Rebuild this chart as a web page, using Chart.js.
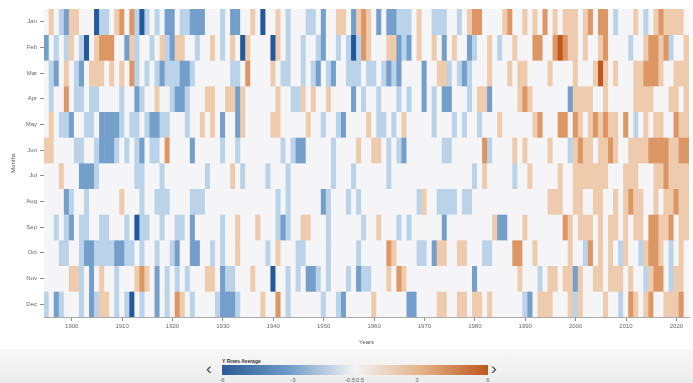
<!DOCTYPE html>
<html>
<head>
<meta charset="utf-8">
<script src="https://cdn.jsdelivr.net/npm/chart.js@4.4.0/dist/chart.umd.min.js"></script>
<style>
  body { margin: 0; background: #fff; font-family: "Liberation Sans", Arial, sans-serif; }
  #wrap { position: relative; width: 693px; height: 349px; }
  #foot { position: relative; width: 693px; height: 34px; background: linear-gradient(#f8f8f8, #ececec); overflow: hidden; }
  #foot .ttl { position: absolute; left: 222px; top: 9px; font-size: 5px; font-weight: bold; color: #333; }
  #foot .bar { position: absolute; left: 222px; top: 16px; width: 266px; height: 10px;
    background: linear-gradient(to right, #2a5a98, #6f9bc9 25%, #f3f3f3 50%, #e4b288 75%, #bd571b); }
  #foot .chev { position: absolute; top: 10px; font-size: 17px; color: #444; line-height: 20px; }
  #foot .tk { position: absolute; top: 28px; font-size: 6px; color: #666; transform: translateX(-50%); }
</style>
</head>
<body>
<div id="wrap"><canvas id="heat" width="693" height="349"></canvas></div>
<div id="foot">
  <div class="ttl">Y Rows Average</div>
  <div class="chev" style="left:206px">&lsaquo;</div>
  <div class="bar"></div>
  <div class="chev" style="left:491px">&rsaquo;</div>
  <div id="ticks"></div>
</div>
<script>
// month rows, one value per year 1895-2022 (anomaly level)
const months = ["Jan","Feb","Mar","Apr","May","Jun","Jul","Aug","Sep","Oct","Nov","Dec"];
const firstYear = 1895, lastYear = 2022;
const years = [];
for (let y = firstYear; y <= lastYear; y++) years.push(y);

const jan = [0,1,0,-1,-2,1,1,0,0,0,-3,-1,-1,0,1,2,0,2,-1,-3,-1,0,-1,0,-2,-2,
  0,-1,-1,-2,-2,-2,0,0,0,-1,0,-2,-2,0,0,1,0,-3,0,0,1,0,-1,0,0,
  0,-1,-1,0,-2,0,0,1,1,0,-2,1,2,1,0,-2,0,-2,-2,-1,-1,-1,0,1,0,0,
  -1,-1,-1,0,0,-1,0,1,2,2,0,0,0,0,1,2,0,0,1,0,1,0,2,0,1,0,
  1,1,1,0,1,2,0,2,2,0,-1,0,0,0,1,0,-1,0,1,2,1,1,1,1,0];
const feb = [-2,0,-1,0,-1,1,0,-1,-3,0,1,2,2,2,0,0,-2,1,-1,0,0,-1,0,1,-1,-2,
  1,1,0,0,-1,0,0,1,0,-1,0,1,0,-3,1,0,0,0,0,-3,1,0,-1,0,0,
  -1,0,0,-1,-2,0,0,-1,0,-1,-3,-1,2,1,0,0,0,1,1,-2,-1,-2,0,1,0,0,
  1,0,-2,0,1,0,0,-2,-1,0,0,1,0,-1,0,0,1,0,0,0,2,2,0,0,2,3,
  2,1,1,0,1,0,0,1,2,0,0,0,0,-1,0,0,1,2,2,1,2,-1,0,0,1];
const mar = [0,-1,-2,0,1,0,-1,-2,0,1,1,1,0,1,0,1,0,2,-1,0,-1,0,-1,-2,-1,-1,
  -1,-2,-2,-1,0,0,0,0,0,0,0,-1,-1,0,2,0,0,0,0,1,0,-1,-1,0,0,
  -1,0,-1,-2,0,-1,-2,0,0,-1,-1,-1,0,-1,-1,0,-1,-2,-1,-2,0,0,0,0,-2,0,
  0,1,1,-1,0,-1,-2,-1,0,0,0,1,0,0,0,1,0,1,1,0,0,0,0,1,0,0,
  0,0,1,0,0,0,1,3,1,0,1,0,0,0,1,1,2,2,2,1,0,0,1,1,1];
const apr = [0,-1,0,0,2,0,-1,-1,0,-1,-1,0,0,0,0,-1,0,0,-2,-1,0,0,1,0,0,-1,
  -2,-2,-1,0,0,0,1,1,0,0,1,1,-2,1,0,0,0,0,0,0,1,0,0,-1,-1,
  1,0,1,0,0,1,0,0,0,0,-2,0,-1,0,0,-1,0,0,0,-1,0,-1,0,0,-2,0,
  -1,0,-2,-2,0,0,0,-1,0,1,1,-2,0,0,0,0,0,1,2,1,0,0,0,0,0,0,
  0,-2,1,1,1,1,0,0,1,0,0,0,0,0,1,1,1,1,0,0,0,1,1,0,1];
const may = [0,1,0,-1,-1,-2,0,0,-1,-1,0,-2,-2,-2,-2,-1,0,-1,-1,0,-1,-2,-2,-1,-1,0,
  0,0,-1,0,0,1,0,1,0,-2,0,0,-2,1,0,0,0,0,0,1,1,0,0,0,0,
  0,1,0,0,-1,0,0,-1,-2,0,0,0,0,1,0,-1,-1,0,-1,0,1,0,0,0,0,0,
  -1,0,0,0,-1,0,-1,0,0,-1,0,0,0,1,0,0,0,0,0,0,1,2,0,0,0,2,
  2,0,2,1,0,1,2,1,2,1,1,0,2,0,-1,0,1,0,1,1,0,0,2,1,1];
const jun = [1,1,0,0,0,0,-1,-1,0,0,-1,-2,-2,-2,-1,0,-1,0,-1,-2,0,-1,-1,0,2,0,
  0,0,0,-2,0,0,0,0,0,-1,0,0,-1,0,0,0,0,0,0,0,0,-1,0,-1,-2,
  -2,0,0,0,0,0,-1,0,0,0,0,1,0,0,1,1,0,-1,0,-1,-2,0,0,0,0,0,
  0,0,-1,-1,0,0,0,0,0,0,2,-1,0,0,0,0,1,0,1,0,0,0,0,1,0,0,
  0,-1,1,2,1,1,0,1,1,2,1,0,0,1,1,1,1,2,2,2,2,1,1,2,2];
const jul = [0,0,0,1,0,0,0,-2,-2,-2,-1,0,0,0,0,0,0,0,-1,-1,0,0,0,-1,0,0,
  0,0,0,0,0,0,-1,0,0,0,0,1,0,-1,0,0,0,0,-1,0,0,0,-1,0,0,
  0,0,0,0,0,0,-1,0,0,0,-1,0,0,0,0,0,0,-1,0,0,0,0,0,0,0,0,
  0,0,0,0,0,0,0,0,-1,0,1,0,0,0,0,0,-1,0,0,1,0,0,0,0,0,1,
  0,0,1,1,1,1,1,1,1,0,0,0,1,1,1,0,0,0,1,1,2,1,1,1,1];
const aug = [0,0,0,0,-2,-1,0,0,-1,0,0,0,0,0,0,1,0,0,0,-1,0,0,-1,-1,-1,0,
  0,0,0,-1,-1,-1,0,0,0,0,0,0,0,0,0,0,0,0,0,0,-1,0,-1,0,0,
  0,0,0,0,-2,-1,0,0,0,-1,0,-1,0,0,0,0,0,0,0,0,0,0,0,-1,1,0,
  0,-1,-1,-1,-1,0,-1,-1,0,0,0,0,0,0,0,0,0,0,0,0,0,0,0,1,1,1,
  0,0,1,1,0,0,1,1,0,0,1,0,1,2,1,1,0,0,1,0,1,1,2,1,1];
const sep = [0,0,-1,0,-1,-2,0,-1,-1,0,0,-1,-1,0,0,0,-1,0,-3,-1,-1,0,0,-1,0,0,
  -1,-1,0,-2,0,0,0,0,0,-1,0,0,1,0,0,0,1,0,0,0,-1,-2,-1,0,0,
  1,1,0,0,0,-1,0,0,0,0,0,0,-1,0,0,1,0,0,0,-1,0,-1,0,0,0,0,
  0,0,-2,0,0,0,0,0,0,0,0,0,1,-2,-2,0,0,0,1,0,0,0,0,0,0,0,
  2,1,0,1,1,1,0,1,0,1,1,0,1,0,1,1,0,2,2,1,1,2,0,1,1];
const oct = [0,0,0,-1,-1,0,0,-1,-2,-2,-1,-1,-1,-1,-2,-2,-1,-1,0,-1,0,0,-1,0,0,-1,
  -2,0,0,-2,-2,0,0,-1,0,-1,0,0,1,0,0,0,0,0,-1,0,1,0,0,0,-1,
  -1,0,0,0,0,-1,0,0,0,0,0,-1,0,0,0,0,0,2,1,0,0,0,0,-1,-1,0,
  -2,1,1,0,0,1,1,0,0,0,-1,-1,0,0,0,0,2,2,0,0,1,0,0,0,0,0,
  0,1,0,0,-1,2,0,1,0,1,0,-1,1,0,0,-1,1,2,2,1,0,-1,0,1,0];
const nov = [0,0,0,0,0,1,1,-1,0,-2,0,1,0,0,-1,0,0,0,1,2,1,0,-2,0,-1,0,
  -1,0,-1,0,0,0,1,1,0,-2,-1,-1,0,0,0,1,0,0,0,-3,0,0,-1,0,-1,
  0,-2,-2,-1,0,-1,0,0,0,-1,0,-2,-1,-1,0,0,0,1,0,2,1,0,0,0,0,0,
  0,0,0,0,0,0,0,0,-2,0,0,0,0,0,0,0,0,1,0,0,0,-1,0,1,1,0,
  1,1,-2,1,0,0,1,1,0,1,1,1,0,1,0,0,-1,1,2,2,0,-1,1,1,0];
const dec = [-1,0,-2,-1,0,0,0,-1,0,-2,-1,1,1,0,-1,0,-1,-3,0,-1,0,0,-2,0,-1,0,
  2,1,0,-1,0,0,0,0,-1,-2,-2,-2,-1,0,0,0,0,1,0,0,2,0,-1,0,0,
  0,0,0,0,-1,0,0,-1,-2,0,0,0,0,0,1,0,0,0,0,0,0,-2,-2,0,0,0,
  0,1,1,0,0,1,1,0,1,1,0,1,0,0,0,0,0,0,-1,-2,0,1,1,1,0,0,
  0,1,-1,1,0,0,0,0,1,0,0,-1,0,2,1,0,1,2,0,0,1,1,1,2,0];

const rows = [jan, feb, mar, apr, may, jun, jul, aug, sep, oct, nov, dec];

// legend tick labels under the colour bar
const legendTicks = ["-6", "-3", "-0.5", "0.5", "3", "6"];
const legendPos = [222, 293, 350, 360, 417, 488];

function mix(a, b, t) {
  return a.map((c, i) => Math.round(c + (b[i] - c) * t));
}
function cellColor(v) {
  const t = Math.max(-1, Math.min(1, v / 3));
  const white = [245, 245, 247];
  const mid = t < 0 ? [158, 194, 226] : [236, 182, 138];
  const end = t < 0 ? [36, 88, 156] : [192, 88, 28];
  const a = Math.abs(t);
  const c = a < 0.5 ? mix(white, mid, a / 0.5) : mix(mid, end, (a - 0.5) / 0.5);
  return `rgb(${c[0]},${c[1]},${c[2]})`;
}

const tickBox = document.getElementById("ticks");
legendTicks.forEach((t, i) => {
  const d = document.createElement("div");
  d.className = "tk";
  d.style.left = legendPos[i] + "px";
  d.textContent = t;
  tickBox.appendChild(d);
});

const axisFont = { family: "'Liberation Sans', Arial, sans-serif", size: 6 };

new Chart(document.getElementById("heat"), {
  type: "bar",
  data: {
    labels: years,
    datasets: months.map((m, k) => ({
      label: m,
      data: years.map(() => [k, k + 1]),
      backgroundColor: rows[k].map(cellColor),
      borderWidth: 0,
      barPercentage: 1,
      categoryPercentage: 1,
      grouped: false
    }))
  },
  options: {
    responsive: false,
    animation: false,
    layout: { padding: { top: 9, right: 4, left: 0, bottom: 0 } },
    plugins: { legend: { display: false }, tooltip: { enabled: false } },
    scales: {
      x: {
        type: "category",
        offset: true,
        afterFit: s => { s.height = 32; },
        border: { display: true, color: "#aaa" },
        grid: {
          drawOnChartArea: false,
          offset: false,
          tickLength: 4,
          color: ctx => (years[ctx.index] % 10 === 0 ? "#888" : "rgba(0,0,0,0)")
        },
        ticks: {
          autoSkip: false,
          maxRotation: 0,
          padding: 2,
          font: axisFont,
          color: "#666",
          callback: (v, i) => (years[i] % 10 === 0 ? String(years[i]) : "")
        },
        title: { display: true, text: "Years", font: axisFont, color: "#555", padding: { top: 4, bottom: 3 } }
      },
      y: {
        type: "linear",
        reverse: true,
        min: 0,
        max: 12,
        afterFit: s => { s.width = 44; },
        afterBuildTicks: s => { s.ticks = months.map((m, i) => ({ value: i + 0.5 })); },
        border: { display: true, color: "#aaa" },
        grid: { drawOnChartArea: false, tickLength: 4, color: "#888" },
        ticks: {
          font: axisFont,
          color: "#666",
          padding: 3,
          callback: v => months[Math.floor(v)]
        },
        title: { display: true, text: "Months", font: axisFont, color: "#555", padding: { top: 10, bottom: 0 } }
      }
    }
  }
});
</script>
</body>
</html>
